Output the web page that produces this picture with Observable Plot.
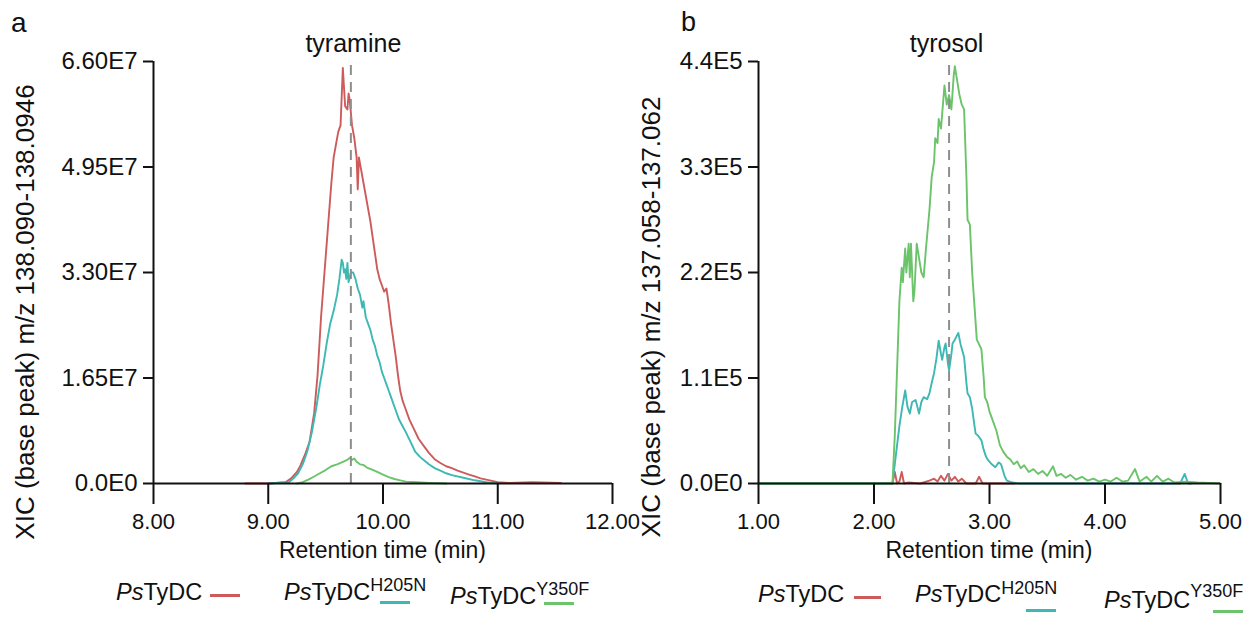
<!DOCTYPE html>
<html><head><meta charset="utf-8">
<script src="https://cdn.jsdelivr.net/npm/d3@7"></script>
<script src="https://cdn.jsdelivr.net/npm/@observablehq/plot@0.6"></script>
<style>
body{margin:0;background:#fff;font-family:"Liberation Sans",Arial,sans-serif;}
#root{position:relative;width:1255px;height:618px;overflow:hidden;background:#fff;}
.abs{position:absolute;white-space:nowrap;color:#111;line-height:1;}
.plot{position:absolute;top:0;}
.sw{position:absolute;height:3px;}
</style></head><body><div id="root"></div>
<script>
// ---------- Panel a (tyramine), values in units of 1E7 ----------
const aRedT = [8.80,9.00,9.15,9.20,9.25,9.28,9.32,9.36,9.40,9.43,9.46,9.49,9.52,9.55,9.57,9.59,9.61,9.63,9.65,9.66,9.67,9.69,9.70,9.71,9.73,9.75,9.77,9.78,9.79,9.81,9.83,9.85,9.87,9.89,9.91,9.93,9.95,9.97,9.99,10.01,10.03,10.05,10.07,10.09,10.11,10.13,10.15,10.17,10.20,10.23,10.27,10.31,10.35,10.40,10.45,10.50,10.55,10.60,10.65,10.70,10.75,10.80,10.85,10.90,10.95,11.00,11.10,11.30,11.55];
const aRedV = [0,0,0.02,0.08,0.18,0.28,0.45,0.65,1.1,1.7,2.6,3.3,4.0,4.7,5.1,5.3,5.5,5.6,6.5,6.2,5.9,5.85,6.1,6.0,5.6,5.4,5.1,4.6,5.1,4.9,4.7,4.5,4.3,4.1,3.85,3.6,3.35,3.2,3.1,3.0,3.05,2.8,2.5,2.25,2.0,1.7,1.45,1.3,1.15,1.0,0.85,0.7,0.6,0.48,0.38,0.32,0.27,0.24,0.2,0.17,0.14,0.11,0.08,0.06,0.04,0.02,0.01,0.02,0.01];
const aTealT = [9.00,9.18,9.22,9.26,9.30,9.34,9.38,9.42,9.45,9.48,9.51,9.54,9.57,9.60,9.62,9.64,9.65,9.66,9.67,9.68,9.69,9.70,9.72,9.74,9.76,9.78,9.80,9.82,9.83,9.85,9.87,9.89,9.91,9.93,9.95,9.97,9.99,10.01,10.03,10.05,10.07,10.09,10.11,10.14,10.17,10.20,10.24,10.28,10.32,10.36,10.40,10.45,10.50,10.55,10.60,10.70,10.80,10.90,11.00];
const aTealV = [0,0.02,0.08,0.16,0.3,0.5,0.8,1.2,1.55,1.85,2.2,2.5,2.7,2.95,3.2,3.5,3.45,3.3,3.35,3.2,3.45,3.15,3.3,3.3,3.2,3.05,2.95,2.75,2.85,2.6,2.5,2.4,2.25,2.15,2.0,1.9,1.75,1.65,1.55,1.45,1.35,1.25,1.15,1.0,0.9,0.8,0.65,0.5,0.42,0.36,0.3,0.24,0.2,0.16,0.13,0.09,0.05,0.02,0];
const aGreenT = [9.25,9.30,9.35,9.40,9.45,9.50,9.55,9.60,9.64,9.68,9.71,9.73,9.75,9.77,9.80,9.83,9.86,9.90,9.95,10.00,10.05,10.10,10.15,10.20,10.30,10.40,10.55];
const aGreenV = [0,0.02,0.06,0.11,0.16,0.21,0.27,0.3,0.33,0.36,0.4,0.37,0.39,0.34,0.3,0.29,0.25,0.22,0.18,0.14,0.1,0.07,0.05,0.03,0.02,0.01,0];
const aXTicks = [8,9,10,11,12];
const aXLabels = ["8.00","9.00","10.00","11.00","12.00"];
const aYTicks = [0,1.65,3.3,4.95,6.6];
const aYLabels = ["0.0E0","1.65E7","3.30E7","4.95E7","6.60E7"];
const aPeak = 9.72;

// ---------- Panel b (tyrosol), values in units of 1E5 ----------
const bRedT = [2.16,2.18,2.20,2.22,2.24,2.26,2.30,2.40,2.48,2.52,2.55,2.58,2.61,2.64,2.67,2.70,2.73,2.76,2.80,2.88,2.91,2.94,3.22];
const bRedV = [0,0.12,0,0.02,0.12,0,0.01,0,0.03,0.05,0.02,0.08,0.03,0.1,0.03,0.07,0.02,0.05,0,0,0.07,0,0];
const bTealT = [1.00,2.16,2.19,2.22,2.245,2.27,2.29,2.31,2.33,2.36,2.38,2.39,2.41,2.43,2.46,2.48,2.50,2.52,2.54,2.56,2.58,2.59,2.61,2.62,2.64,2.65,2.67,2.68,2.70,2.73,2.75,2.78,2.80,2.81,2.83,2.85,2.87,2.88,2.90,2.93,2.95,2.97,2.99,3.02,3.05,3.08,3.10,3.13,3.15,3.20,3.25,4.65,4.69,4.72,4.75];
const bTealV = [0,0,0.3,0.6,0.8,0.97,0.8,0.73,0.85,0.87,0.78,0.73,0.85,0.9,0.88,0.94,1.05,1.15,1.3,1.49,1.35,1.29,1.42,1.46,1.25,1.18,1.35,1.46,1.5,1.57,1.45,1.32,1.05,0.94,0.9,0.78,0.6,0.52,0.5,0.45,0.35,0.28,0.24,0.2,0.17,0.22,0.2,0.08,0.03,0.01,0,0,0.1,0,0];
const bGreenT = [1.00,2.16,2.18,2.20,2.22,2.24,2.25,2.27,2.28,2.30,2.31,2.32,2.34,2.35,2.37,2.39,2.41,2.43,2.45,2.48,2.50,2.52,2.53,2.55,2.56,2.58,2.60,2.61,2.63,2.65,2.67,2.69,2.70,2.72,2.74,2.76,2.78,2.80,2.81,2.83,2.85,2.87,2.89,2.91,2.93,2.95,2.96,2.98,3.00,3.03,3.06,3.09,3.12,3.15,3.18,3.21,3.24,3.27,3.30,3.34,3.38,3.42,3.46,3.50,3.55,3.58,3.62,3.66,3.70,3.75,3.80,3.85,3.90,3.95,4.00,4.05,4.10,4.15,4.20,4.26,4.30,4.36,4.40,4.45,4.50,4.55,4.60,4.70,4.80,5.00];
const bGreenV = [0,0,0.5,1.2,1.9,2.25,2.1,2.45,2.2,2.5,2.15,2.5,1.9,2.0,2.5,2.35,2.2,2.15,2.45,2.85,3.2,3.35,3.6,3.55,3.8,3.7,4.0,4.15,3.95,4.05,3.9,4.25,4.35,4.2,4.05,3.95,3.9,3.2,2.75,2.7,2.2,1.85,1.5,1.45,1.4,1.1,0.9,0.85,0.75,0.65,0.55,0.4,0.33,0.28,0.25,0.2,0.23,0.16,0.19,0.12,0.15,0.1,0.13,0.08,0.18,0.08,0.1,0.06,0.09,0.04,0.07,0.03,0.05,0.02,0.04,0.02,0.06,0.02,0.03,0.15,0.02,0.07,0.02,0.08,0.02,0.05,0.01,0.02,0.01,0];
const bXTicks = [1,2,3,4,5];
const bXLabels = ["1.00","2.00","3.00","4.00","5.00"];
const bYTicks = [0,1.1,2.2,3.3,4.4];
const bYLabels = ["0.0E0","1.1E5","2.2E5","3.3E5","4.4E5"];
const bPeak = 2.65;

const colors = ["#cd5b5b","#3db8b3","#6bc36a"];
const sups = ["", "H205N", "Y350F"];

const toRows = (T, V, k) => T.map((t, i) => ({t, v: V[i] * k}));
const FONT = '"Liberation Sans", Arial, sans-serif';
const root = document.getElementById("root");

function panel(o) {
  const yT = o.yTicks.map(d => d * o.k);
  const yMap = new Map(yT.map((d, i) => [d, o.yLabels[i]]));
  const xMap = new Map(o.xTicks.map((d, i) => [d, o.xLabels[i]]));
  const xD = [o.xTicks[0], o.xTicks[o.xTicks.length - 1]];
  const yD = [yT[0], yT[yT.length - 1]];
  const p = Plot.plot({
    width: o.width, height: 560,
    marginLeft: o.ml, marginRight: o.mr, marginTop: 61, marginBottom: 77,
    style: {fontFamily: FONT, color: "#111", background: "transparent", overflow: "visible"},
    x: {domain: xD},
    y: {domain: yD},
    marks: [
      ...o.series.map((s, i) => Plot.line(s, {x: "t", y: "v", stroke: colors[i], strokeWidth: 1.9})),
      Plot.ruleX([o.peak], {y1: yD[0], y2: yD[1], stroke: "#8e8e8e", strokeWidth: 2, strokeDasharray: "10,7"}),
      Plot.ruleX([xD[0]], {y1: yD[0], y2: yD[1], stroke: "#111", strokeWidth: 2}),
      Plot.ruleY([yD[0]], {x1: xD[0], x2: xD[1], stroke: "#111", strokeWidth: 2}),
      Plot.axisY({ticks: yT, tickSize: 10, tickPadding: 6, tickFormat: d => yMap.get(d), fontSize: 24, strokeWidth: 2, label: null}),
      Plot.axisX({ticks: o.xTicks, tickSize: 21, tickPadding: 9, tickFormat: d => xMap.get(d), fontSize: 22, strokeWidth: 2, label: null})
    ]
  });
  p.classList.add("plot");
  p.style.left = o.left + "px";
  root.appendChild(p);
  const sx = p.scale("x");
  return {px: sx.apply(o.peak) + o.left, cx: (sx.apply(xD[0]) + sx.apply(xD[1])) / 2 + o.left};
}

function addText(txt, x, y, size, extra = "") {
  const d = document.createElement("div");
  d.className = "abs";
  d.style.cssText += `left:${x}px;top:${y}px;font-size:${size}px;${extra}`;
  d.innerHTML = txt;
  root.appendChild(d);
  return d;
}

const A = panel({left: 0, width: 630, ml: 153, mr: 18, k: 1e7,
  xTicks: aXTicks, xLabels: aXLabels, yTicks: aYTicks, yLabels: aYLabels, peak: aPeak,
  series: [toRows(aRedT, aRedV, 1e7), toRows(aTealT, aTealV, 1e7), toRows(aGreenT, aGreenV, 1e7)]});
const B = panel({left: 620, width: 635, ml: 138, mr: 35, k: 1e5,
  xTicks: bXTicks, xLabels: bXLabels, yTicks: bYTicks, yLabels: bYLabels, peak: bPeak,
  series: [toRows(bRedT, bRedV, 1e5), toRows(bTealT, bTealV, 1e5), toRows(bGreenT, bGreenV, 1e5)]});

// panel letters
addText("a", 11, 9, 28);
addText("b", 681, 9, 27);
// compound titles centred on the dashed line
addText("tyramine", A.px + 3, 31, 25, "transform:translateX(-50%);");
addText("tyrosol", B.px - 2, 31, 25, "transform:translateX(-50%);");
// y-axis titles
addText("XIC (base peak) m/z 138.090-138.0946", 25, 312, 26, "transform:translate(-50%,-50%) rotate(-90deg);");
addText("XIC (base peak) m/z 137.058-137.062", 651, 317, 26, "transform:translate(-50%,-50%) rotate(-90deg);");
// x-axis titles
addText("Retention time (min)", A.cx, 539, 23, "transform:translateX(-50%);");
addText("Retention time (min)", B.cx, 539, 23, "transform:translateX(-50%);");

// legends: text box (x, top), superscript offset, swatch (x1, x2, yCentre)
function legendItem(i, x, top, supTop, s1, s2, sy) {
  const lab = `<i>Ps</i>TyDC` + (sups[i] ? `<span style="font-size:18px;position:relative;top:${supTop}px;">${sups[i]}</span>` : "");
  addText(lab, x, top, 23.5);
  const s = document.createElement("div");
  s.className = "sw";
  s.style.cssText += `left:${s1}px;top:${sy - 1.5}px;width:${s2 - s1}px;background:${colors[i]};`;
  root.appendChild(s);
}
legendItem(0, 116, 581, 0, 210, 240, 595);
legendItem(1, 284, 581, -9, 380, 410, 602);
legendItem(2, 450, 585, -9, 544, 574, 603);
legendItem(0, 758, 583, 0, 854, 881, 597);
legendItem(1, 915, 583, -8, 1026, 1056, 610);
legendItem(2, 1104, 589, -11, 1213, 1243, 611);
</script>
</body></html>
